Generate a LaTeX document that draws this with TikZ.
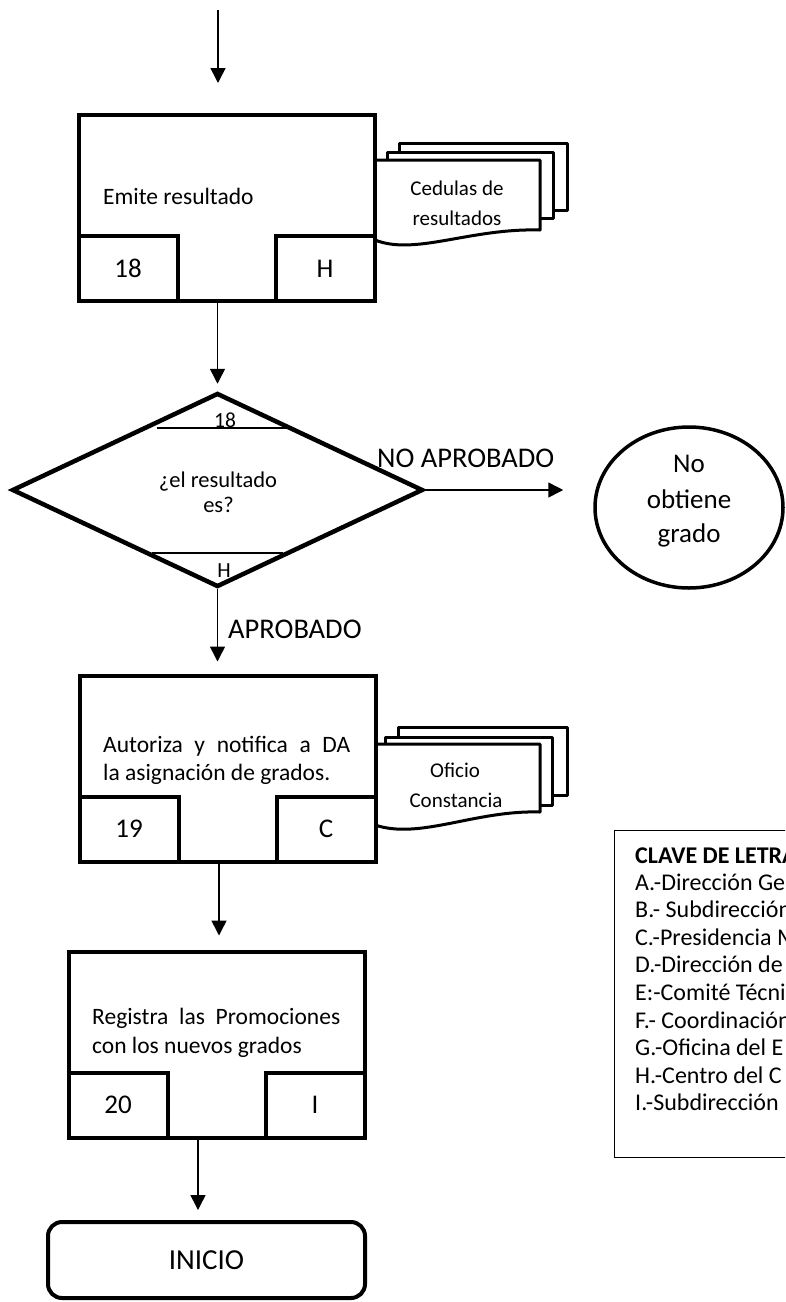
\documentclass[tikz,border=0pt]{standalone}
\usepackage{fontspec}
\setmainfont{Carlito}
\usetikzlibrary{arrows.meta,shapes.geometric}
\begin{document}
\begin{tikzpicture}[x=1pt,y=-1pt,
  arr/.style={line width=1.5pt,-{Triangle[width=15pt,length=15pt]}},
  proc/.style={draw,line width=4pt,fill=white,inner sep=0pt,minimum width=296pt,minimum height=186pt},
  ibox/.style={draw,line width=4pt,fill=white,inner sep=0pt,minimum width=99pt,minimum height=65pt,font=\fontsize{27}{30}\selectfont},
  txt/.style={inner sep=0pt,anchor=base west,font=\fontsize{23.5}{28}\selectfont},
  doctxt/.style={inner sep=0pt,anchor=base,font=\fontsize{21}{25}\selectfont},
  docpage/.style={draw,line width=3pt,fill=white,line join=round},
  lbl/.style={inner sep=0pt,anchor=base west,font=\fontsize{28.5}{32}\selectfont},
  smalllbl/.style={inner sep=0pt,anchor=base,font=\fontsize{21.5}{24}\selectfont},
  qtxt/.style={inner sep=0pt,anchor=base,font=\fontsize{22.5}{26}\selectfont},
  legtxt/.style={inner sep=0pt,anchor=base west,font=\fontsize{24}{27}\selectfont}
]
\useasboundingbox (0,0) rectangle (785,1302);
\clip (0,0) rectangle (785,1302);

% ---- document stack 1
\draw[docpage] (399,143) rectangle (567,210);
\draw[docpage] (387,152) rectangle (553,218);
\draw[docpage] (375,160) -- (540,160) -- (540,230) .. controls (470,228) and (415,256) .. (375,240) -- cycle;
\node[doctxt] (d1a) at (457,195) {Cedulas de};
\node[doctxt] (d1b) at (457,225) {resultados};

% ---- process 1
\node[proc] (p1) at (226.5,208) {};
\node[ibox,anchor=south west] (p1a) at (p1.south west) {18};
\node[ibox,anchor=south east] (p1b) at (p1.south east) {H};
\node[txt] (p1t) at (103,204) {Emite resultado};

% ---- decision
\node[diamond,draw,line width=4.5pt,fill=white,inner sep=0pt,minimum width=411pt,minimum height=194pt] (dec) at (217.5,490) {};
\draw[line width=1.5pt] (157,428) -- (287,428);
\draw[line width=1.5pt] (152,553) -- (283,553);
\node[smalllbl] (dec18) at (225,427) {18};
\node[smalllbl] (decH) at (224,577) {H};
\node[qtxt] (decq1) at (218,487) {¿el resultado};
\node[qtxt] (decq2) at (218.5,512) {es?};

% ---- terminal circle
\node[ellipse,draw,line width=3.5pt,inner sep=0pt,minimum width=188pt,minimum height=161pt] (nog) at (689,507.5) {};
\node[inner sep=0pt,anchor=base,font=\fontsize{27}{35}\selectfont] (nog1) at (689,472) {No};
\node[inner sep=0pt,anchor=base,font=\fontsize{27}{35}\selectfont] (nog2) at (689,508) {obtiene};
\node[inner sep=0pt,anchor=base,font=\fontsize{27}{35}\selectfont] (nog3) at (689,542) {grado};

% ---- document stack 2
\draw[docpage] (398,727) rectangle (567,795);
\draw[docpage] (385,737) rectangle (552,805);
\draw[docpage] (375,744) -- (540,744) -- (540,812) .. controls (475,810) and (420,840) .. (375,825) -- cycle;
\node[doctxt] (d2a) at (455,777) {Oficio};
\node[doctxt] (d2b) at (456,807) {Constancia};

% ---- process 2
\node[proc] (p2) at (227.5,768.5) {};
\node[ibox,anchor=south west] (p2a) at (p2.south west) {19};
\node[ibox,anchor=south east] (p2b) at (p2.south east) {C};
\node[txt] (p2t1) at (103,752) {\makebox[247pt][s]{Autoriza y notifica a DA}};
\node[txt] (p2t2) at (103,780) {la asignación de grados.};

% ---- process 3
\node[proc] (p3) at (216.5,1044.5) {};
\node[ibox,anchor=south west] (p3a) at (p3.south west) {20};
\node[ibox,anchor=south east] (p3b) at (p3.south east) {I};
\node[txt] (p3t1) at (92,1024) {\makebox[248pt][s]{Registra las Promociones}};
\node[txt] (p3t2) at (92,1053) {con los nuevos grados};

% ---- end terminal
\node[draw,line width=4pt,rounded corners=14pt,inner sep=0pt,minimum width=317pt,minimum height=76pt,font=\fontsize{29}{32}\selectfont] (fin) at (206.5,1260) {INICIO};

% ---- connectors
\coordinate (start) at (218,10);
\draw[arr,shorten >=30pt] (start) -- (start |- p1.north);
\draw[arr,shorten >=7pt] (p1.south -| dec.north) -- (dec.north);
\draw[arr,shorten >=30pt] (dec.east) -- (dec.east -| nog.west);
\draw[arr,shorten >=12pt] (dec.south) -- (dec.south |- p2.north);
\draw[arr,shorten >=14pt] ([xshift=-8.5pt]p2.south) -- ([xshift=-8.5pt]p2.south |- p3.north);
\draw[arr,shorten >=10pt] ([xshift=-18.5pt]p3.south) -- ([xshift=-18.5pt]p3.south |- fin.north);

\node[lbl] (noap) at (377,467) {NO APROBADO};
\node[lbl] (ap) at (228,638) {APROBADO};

% ---- legend
\node[draw,line width=1pt,inner sep=0pt,minimum width=190pt,minimum height=327pt,anchor=north west] (leg) at (614,830) {};
\node[legtxt,font=\fontsize{24}{27}\selectfont\bfseries] (leg0) at (635,863) {CLAVE DE LETRAS};
\foreach \t [count=\i] in {A.-Dirección General,B.- Subdirección,C.-Presidencia M,D.-Dirección de,E:-Comité Técnico,F.- Coordinación,G.-Oficina del E,H.-Centro del C,I.-Subdirección}
  \node[legtxt] (leg\i) at (635,862.5+27.6*\i) {\t};
\end{tikzpicture}
\end{document}
